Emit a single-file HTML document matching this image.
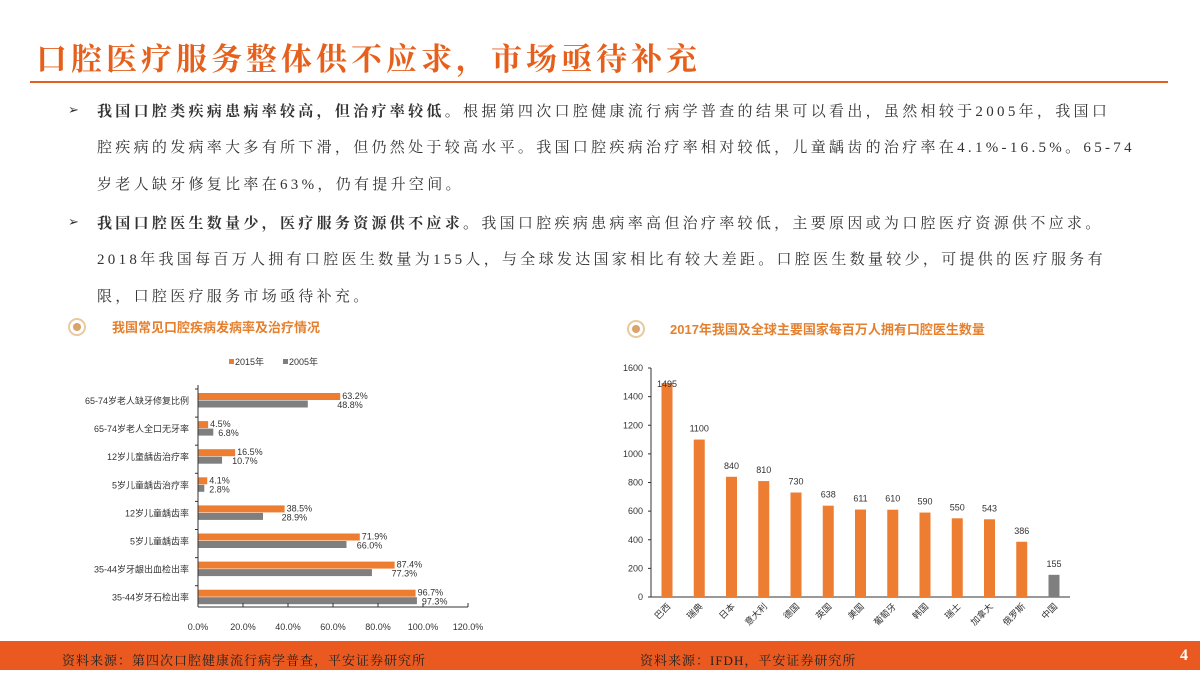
<!DOCTYPE html>
<html><head><meta charset="utf-8">
<style>
body{margin:0;width:1200px;height:675px;background:#fff;overflow:hidden;position:relative;font-family:"Liberation Serif","Noto Serif CJK SC",serif;}
.title{position:absolute;left:36px;top:34px;font-size:31px;font-weight:bold;color:#E5601C;letter-spacing:4px;white-space:nowrap;}
.rule{position:absolute;left:30px;top:81px;width:1138px;height:2px;background:#E5601C;}
.line{position:absolute;left:97px;font-size:15px;color:#333;white-space:nowrap;letter-spacing:3.3px;}
.bul{position:absolute;left:68px;font-size:13px;color:#333;}
.foot{position:absolute;left:0;top:641px;width:1200px;height:29px;background:#EA5A20;}
.ft{position:absolute;top:650px;font-size:13px;color:#222;letter-spacing:1px;}
</style></head><body>
<div class="title">口腔医疗服务整体供不应求，市场亟待补充</div>
<div class="rule"></div>
<div class="bul" style="top:102px">➢</div>
<div class="line" style="top:100px"><b>我国口腔类疾病患病率较高，但治疗率较低。</b>根据第四次口腔健康流行病学普查的结果可以看出，虽然相较于2005年，我国口</div>
<div class="line" style="top:136px">腔疾病的发病率大多有所下滑，但仍然处于较高水平。我国口腔疾病治疗率相对较低，儿童龋齿的治疗率在4.1%-16.5%。65-74</div>
<div class="line" style="top:173px">岁老人缺牙修复比率在63%，仍有提升空间。</div>
<div class="bul" style="top:214px">➢</div>
<div class="line" style="top:212px"><b>我国口腔医生数量少，医疗服务资源供不应求。</b>我国口腔疾病患病率高但治疗率较低，主要原因或为口腔医疗资源供不应求。</div>
<div class="line" style="top:248px">2018年我国每百万人拥有口腔医生数量为155人，与全球发达国家相比有较大差距。口腔医生数量较少，可提供的医疗服务有</div>
<div class="line" style="top:285px">限，口腔医疗服务市场亟待补充。</div>

<svg width="1200" height="675" style="position:absolute;left:0;top:0" font-family="Liberation Sans, Noto Sans CJK SC, sans-serif">
<g>
<circle cx="77" cy="327" r="8" fill="none" stroke="#E8C9A0" stroke-width="2"/><circle cx="77" cy="327" r="4" fill="#D9A36A"/>
<text x="112" y="332" font-size="13" font-weight="bold" fill="#E5802F">我国常见口腔疾病发病率及治疗情况</text></g>
<g>
<circle cx="636" cy="329" r="8" fill="none" stroke="#E8C9A0" stroke-width="2"/><circle cx="636" cy="329" r="4" fill="#D9A36A"/>
<text x="670" y="334" font-size="13" font-weight="bold" fill="#E5802F">2017年我国及全球主要国家每百万人拥有口腔医生数量</text></g>
<g id="left"></g><g id="right"></g>
</svg>
<div class="foot"></div>
<div class="ft" style="left:62px">资料来源：第四次口腔健康流行病学普查，平安证券研究所</div>
<div class="ft" style="left:640px">资料来源：IFDH，平安证券研究所</div>
<div class="ft" style="left:1180px;color:#fff;font-weight:bold;font-size:16px;top:647px">4</div>
<script>
const leftCats=["65-74岁老人缺牙修复比例","65-74岁老人全口无牙率","12岁儿童龋齿治疗率","5岁儿童龋齿治疗率","12岁儿童龋齿率","5岁儿童龋齿率","35-44岁牙龈出血检出率","35-44岁牙石检出率"];
const v2015=[63.2,4.5,16.5,4.1,38.5,71.9,87.4,96.7];
const v2005=[48.8,6.8,10.7,2.8,28.9,66.0,77.3,97.3];
const xTicks=[0,20,40,60,80,100,120];
const rightCats=["巴西","瑞典","日本","意大利","德国","英国","美国","葡萄牙","韩国","瑞士","加拿大","俄罗斯","中国"];
const rightVals=[1495,1100,840,810,730,638,611,610,590,550,543,386,155];
const yTicks=[0,200,400,600,800,1000,1200,1400,1600];
const NS="http://www.w3.org/2000/svg";
function mk(p,t,a,txt){const e=document.createElementNS(NS,t);for(const k in a)e.setAttribute(k,a[k]);if(txt!==undefined)e.textContent=txt;p.appendChild(e);return e;}
const L=document.getElementById('left');
const xs=v=>198+v*2.25, rowY=i=>393+i*28.1;
let g=mk(L,'g',{});
mk(g,'rect',{x:229,y:359,width:5,height:5,fill:'#ED7D31'});mk(g,'text',{x:235,y:365,'font-size':9,fill:'#333'},'2015年');
mk(g,'rect',{x:283,y:359,width:5,height:5,fill:'#7F7F7F'});mk(g,'text',{x:289,y:365,'font-size':9,fill:'#333'},'2005年');
leftCats.forEach((c,i)=>{const y=rowY(i);
 let b=mk(L,'rect',{x:198,y:y,width:xs(v2015[i])-198,height:7,fill:'#ED7D31'});
 
 let b2=mk(L,'rect',{x:198,y:y+7.5,width:xs(v2005[i])-198,height:7,fill:'#7F7F7F'});
 
 mk(L,'text',{x:xs(v2015[i])+2,y:y+6,'font-size':9,fill:'#333'},v2015[i].toFixed(1)+'%');
 mk(L,'text',{x:Math.max(xs(v2005[i]),xs(v2015[i])-8)+5,y:y+15,'font-size':9,fill:'#333'},v2005[i].toFixed(1)+'%');
 let t=mk(L,'text',{x:189,y:y+11,'font-size':9,fill:'#333','text-anchor':'end'},c);
 
 mk(L,'line',{x1:195,x2:198,y1:y-4,y2:y-4,stroke:'#333'});
});
mk(L,'line',{x1:198,x2:198,y1:385,y2:607,stroke:'#333'});
mk(L,'line',{x1:198,x2:468,y1:607,y2:607,stroke:'#333'});
xTicks.forEach(v=>{mk(L,'line',{x1:xs(v),x2:xs(v),y1:603,y2:607,stroke:'#333'});
 let t=mk(L,'text',{x:xs(v),y:630,'font-size':9,fill:'#333','text-anchor':'middle'},v.toFixed(1)+'%');
 });
const R=document.getElementById('right');
const ys=v=>597-v*229/1600, cx=i=>667+i*32.25;
mk(R,'line',{x1:651,x2:651,y1:368,y2:597,stroke:'#333'});
mk(R,'line',{x1:651,x2:1070,y1:597,y2:597,stroke:'#333'});
yTicks.forEach(v=>{mk(R,'line',{x1:648,x2:651,y1:ys(v),y2:ys(v),stroke:'#333'});
 let t=mk(R,'text',{x:643,y:ys(v)+3,'font-size':9,fill:'#333','text-anchor':'end'},v);
 });
rightCats.forEach((c,i)=>{const x=cx(i);
 let b=mk(R,'rect',{x:x-5.5,y:ys(rightVals[i]),width:11,height:597-ys(rightVals[i]),fill:c==='中国'?'#7F7F7F':'#ED7D31'});
 
 mk(R,'text',{x:x,y:ys(rightVals[i])-(i===0?-4:8),'font-size':9,fill:'#333','text-anchor':'middle'},rightVals[i]);
 let t=mk(R,'text',{x:x+4,y:607,'font-size':9,fill:'#333','text-anchor':'end',transform:`rotate(-45 ${x+4} 607)`},c);
 });
</script>
</body></html>
